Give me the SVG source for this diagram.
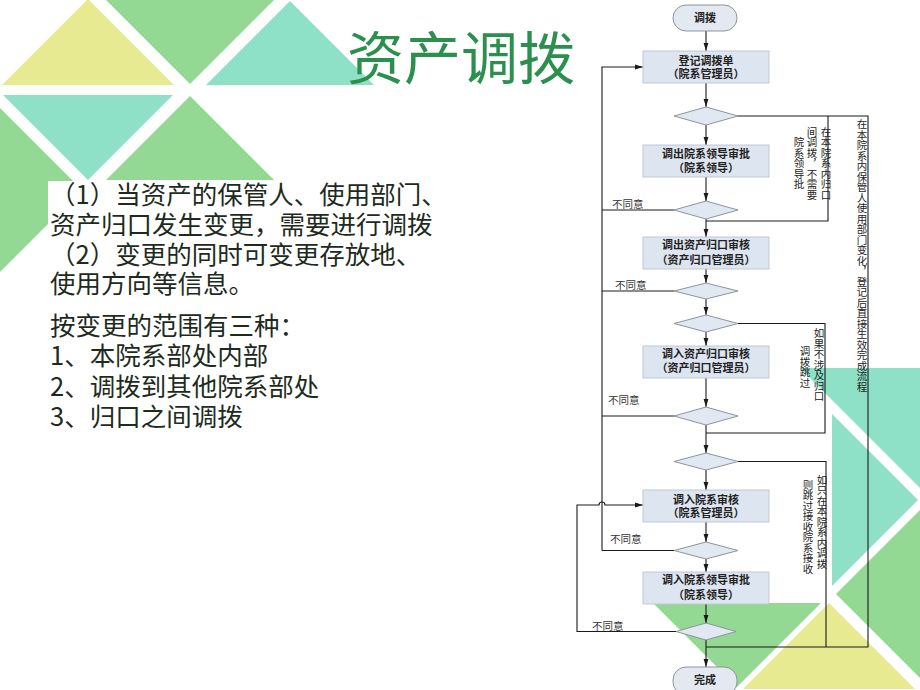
<svg xmlns="http://www.w3.org/2000/svg" width="920" height="690" viewBox="0 0 920 690">
<defs>
<style>
.y{fill:#e7ea90}.g{fill:#93d893}.c{fill:#8ee0c6}
.box{fill:#dde5f0;stroke:#c2c8d2;stroke-width:1}
.dia{fill:#e2e8f1;stroke:#8d949e;stroke-width:1}
.pill{fill:#e4e9f1;stroke:#8d949e;stroke-width:1}
.t{font-family:"Noto Sans CJK SC",sans-serif;font-size:11px;font-weight:bold;fill:#222;text-anchor:middle}
.lbl{font-family:"Noto Sans CJK SC",sans-serif;font-size:10.5px;fill:#333}
.v{font-family:"Noto Sans CJK SC",sans-serif;font-size:10.5px;fill:#222;writing-mode:vertical-rl;text-anchor:middle}
.ln{fill:none;stroke:#1a1a1a;stroke-width:1.1}
.body{font-family:"Noto Sans CJK SC",sans-serif;font-size:25.5px;fill:#1d2b1d}
</style>
<marker id="ah" viewBox="0 0 10 6" refX="10" refY="3" markerWidth="8.5" markerHeight="5.5" markerUnits="userSpaceOnUse" orient="auto">
<path d="M0,0 L10,3 L0,6 z" fill="#1a1a1a"/>
</marker>
</defs>
<rect width="920" height="690" fill="#fff"/>
<g id="background">
<polygon class="y" points="2,85 88,-1 174,85"/>
<polygon class="g" points="106,0 274,0 190,84"/>
<polygon class="c" points="206,85 290,1 374,85"/>
<polygon class="c" points="3,95 173,95 88,180"/>
<polygon class="g" points="106,180 190,96 274,180"/>
<polygon class="g" points="0,108 82,190 0,272"/>
<polygon class="c" points="800,368 920,368 920,488"/>
<polygon class="c" points="832,414 918,500 832,586"/>
<polygon class="g" points="920,510 920,678 836,594"/>
<polygon class="y" points="829,603 743,689 915,689"/>
<polygon class="g" points="653,603 821,603 737,687"/>
</g>
<g id="title">
<text x="347" y="79" font-family="Noto Sans CJK SC, sans-serif" font-size="57" fill="#2b8f4e">资产调拨</text>
</g>
<g id="description">
<rect x="48" y="181" width="390" height="118" fill="#fff"/>
<text class="body" x="50" y="204">（1）当资产的保管人、使用部门、</text>
<text class="body" x="50" y="234">资产归口发生变更，需要进行调拨</text>
<text class="body" x="50" y="264">（2）变更的同时可变更存放地、</text>
<text class="body" x="50" y="293">使用方向等信息。</text>
<text class="body" x="50" y="335">按变更的范围有三种：</text>
<text class="body" x="50" y="365">1、本院系部处内部</text>
<text class="body" x="50" y="396">2、调拨到其他院系部处</text>
<text class="body" x="50" y="426">3、归口之间调拨</text>
</g>
<g id="connectors">
<path class="ln" marker-end="url(#ah)" d="M706,31 V51"/>
<path class="ln" marker-end="url(#ah)" d="M706,83 V107"/>
<path class="ln" marker-end="url(#ah)" d="M706,125 V145"/>
<path class="ln" marker-end="url(#ah)" d="M706,177 V201"/>
<path class="ln" marker-end="url(#ah)" d="M706,219 V237"/>
<path class="ln" marker-end="url(#ah)" d="M706,269 V283"/>
<path class="ln" marker-end="url(#ah)" d="M706,299 V315"/>
<path class="ln" marker-end="url(#ah)" d="M706,332 V346"/>
<path class="ln" marker-end="url(#ah)" d="M706,378 V407"/>
<path class="ln" marker-end="url(#ah)" d="M706,425 V453"/>
<path class="ln" marker-end="url(#ah)" d="M706,470 V490"/>
<path class="ln" marker-end="url(#ah)" d="M706,522 V542"/>
<path class="ln" marker-end="url(#ah)" d="M706,559 V572"/>
<path class="ln" marker-end="url(#ah)" d="M706,604 V623"/>
<path class="ln" marker-end="url(#ah)" d="M706,640 V667"/>
<path class="ln" d="M738,116 H868 V647 H706"/>
<path class="ln" d="M828,116 V221 H706"/>
<path class="ln" d="M738,323.5 H825 V433 H706"/>
<path class="ln" d="M738,461.5 H826 V647"/>
<path class="ln" d="M674,210 H602 M674,291 H602 M674,416 H602 M674,550.5 H602"/>
<path class="ln" marker-end="url(#ah)" d="M602,550.5 V67 H643"/>
<path class="ln" marker-end="url(#ah)" d="M676,631.5 H577 V505 H599 A3,3 0 0 1 605,505 H643"/>
<text class="lbl" x="612" y="208">不同意</text>
<text class="lbl" x="615" y="289">不同意</text>
<text class="lbl" x="608" y="404">不同意</text>
<text class="lbl" x="610" y="543">不同意</text>
<text class="lbl" x="592" y="630">不同意</text>
<text class="v" x="826" y="163.5">在本院系内归口</text>
<text class="v" x="812" y="163.5">间调拨，不需要</text>
<text class="v" x="799" y="163.5">院系领导批</text>
<text class="v" x="862" y="255.5">在本院系内保管人使用部门变化，登记后直接生效完成流程</text>
<text class="v" x="819" y="365">如果不涉及归口</text>
<text class="v" x="805" y="367">调拨跳过</text>
<text class="v" x="822" y="522">如只在本院系内调拨</text>
<text class="v" x="808" y="527">则跳过接收院系接收</text>
</g>
<g id="start">
<rect class="pill" x="673" y="5" width="64" height="26" rx="13"/>
<text class="t" x="705" y="22">调拨</text>
</g>
<g id="box1">
<rect class="box" x="643" y="51" width="126" height="32"/>
<text class="t" x="706" y="65">登记调拨单</text>
<text class="t" x="706" y="78">（院系管理员）</text>
</g>
<g id="d1"><polygon class="dia" points="674,116 706,107 738,116 706,125"/></g>
<g id="box2">
<rect class="box" x="643" y="145" width="126" height="32"/>
<text class="t" x="706" y="158">调出院系领导审批</text>
<text class="t" x="706" y="172">（院系领导）</text>
</g>
<g id="d2"><polygon class="dia" points="674,210 706,201 738,210 706,219"/></g>
<g id="box3">
<rect class="box" x="643" y="237" width="126" height="32"/>
<text class="t" x="706" y="249">调出资产归口审核</text>
<text class="t" x="706" y="264">（资产归口管理员）</text>
</g>
<g id="d3"><polygon class="dia" points="674,291 706,283 738,291 706,299"/></g>
<g id="d4"><polygon class="dia" points="674,323.5 706,315 738,323.5 706,332"/></g>
<g id="box4">
<rect class="box" x="643" y="346" width="126" height="32"/>
<text class="t" x="706" y="358">调入资产归口审核</text>
<text class="t" x="706" y="372">（资产归口管理员）</text>
</g>
<g id="d5"><polygon class="dia" points="674,416 706,407 738,416 706,425"/></g>
<g id="d6"><polygon class="dia" points="674,461.5 706,453 738,461.5 706,470"/></g>
<g id="box5">
<rect class="box" x="643" y="490" width="126" height="32"/>
<text class="t" x="706" y="504">调入院系审核</text>
<text class="t" x="706" y="517">（院系管理员）</text>
</g>
<g id="d7"><polygon class="dia" points="674,550.5 706,542 738,550.5 706,559"/></g>
<g id="box6">
<rect class="box" x="643" y="572" width="126" height="32"/>
<text class="t" x="706" y="584">调入院系领导审批</text>
<text class="t" x="706" y="599">（院系领导）</text>
</g>
<g id="d8"><polygon class="dia" points="676,631.5 706,623 736,631.5 706,640"/></g>
<g id="end">
<rect class="pill" x="673" y="667" width="64" height="28" rx="13"/>
<text class="t" x="705" y="684">完成</text>
</g>
</svg>
